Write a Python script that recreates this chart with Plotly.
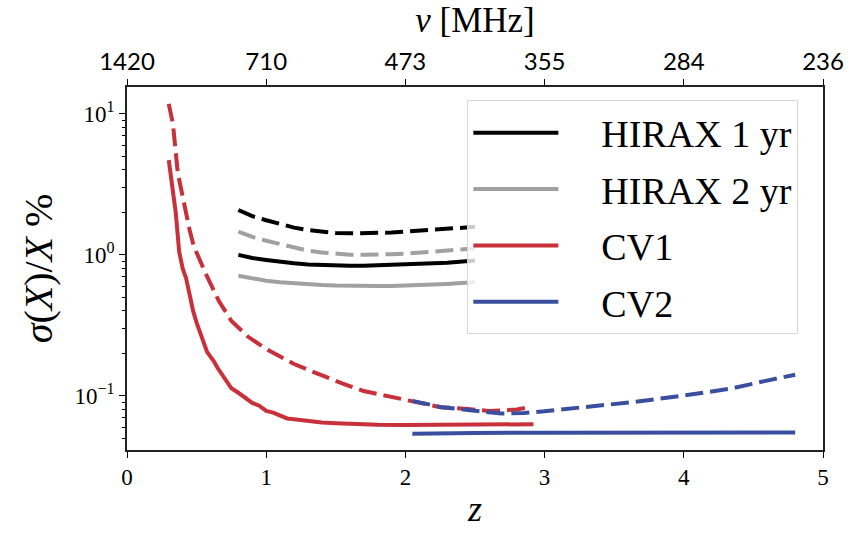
import plotly.graph_objects as go

# Redshift grids and fractional errors sigma(X)/X in percent
z_hirax = [0.8, 0.9, 1.0, 1.1, 1.2, 1.3, 1.4, 1.5, 1.6, 1.7, 1.8, 1.9, 2.0, 2.1, 2.2, 2.3, 2.4, 2.5]
hirax1_solid = [1.00, 0.95, 0.92, 0.89, 0.87, 0.855, 0.845, 0.84, 0.835, 0.835, 0.84, 0.845, 0.85, 0.86, 0.87, 0.88, 0.895, 0.91]
hirax1_dash = [2.08, 1.88, 1.76, 1.66, 1.56, 1.50, 1.46, 1.43, 1.42, 1.42, 1.43, 1.44, 1.46, 1.48, 1.50, 1.52, 1.55, 1.58]
hirax2_solid = [0.71, 0.68, 0.655, 0.64, 0.628, 0.618, 0.61, 0.605, 0.60, 0.60, 0.60, 0.602, 0.605, 0.61, 0.615, 0.622, 0.63, 0.64]
hirax2_dash = [1.46, 1.34, 1.26, 1.19, 1.12, 1.07, 1.04, 1.02, 1.00, 1.00, 1.00, 1.01, 1.02, 1.04, 1.05, 1.07, 1.09, 1.11]

z_cv1_solid = [0.30, 0.325, 0.35, 0.375, 0.40, 0.425, 0.45, 0.475, 0.50, 0.525, 0.55, 0.575, 0.60,
               0.625, 0.65, 0.70, 0.75, 0.80, 0.85, 0.90, 0.95, 1.00, 1.05, 1.10, 1.15, 1.20, 1.30,
               1.40, 1.50, 1.60, 1.80, 2.00, 2.20, 2.40, 2.60, 2.80, 2.92]
cv1_solid = [4.7, 3.0, 2.0, 1.05, 0.80, 0.68, 0.52, 0.40, 0.33, 0.275, 0.24, 0.205, 0.19,
             0.175, 0.158, 0.135, 0.113, 0.105, 0.096, 0.089, 0.085, 0.078, 0.076, 0.072, 0.069, 0.068, 0.066,
             0.0645, 0.0638, 0.063, 0.0622, 0.062, 0.062, 0.0618, 0.0622, 0.0625, 0.0628]

z_cv1_dash = [0.30, 0.33, 0.365, 0.40, 0.43, 0.45, 0.48, 0.52, 0.57, 0.66, 0.75, 0.87, 1.0, 1.1, 1.2,
              1.35, 1.46, 1.55, 1.7, 1.9, 2.1, 2.25, 2.45, 2.6, 2.7, 2.8, 2.9]
cv1_dash = [11.8, 8.5, 3.8, 2.5, 1.8, 1.5, 1.15, 0.93, 0.72, 0.47, 0.34, 0.262, 0.215, 0.19, 0.168,
            0.146, 0.131, 0.122, 0.108, 0.098, 0.090, 0.083, 0.0805, 0.078, 0.0786, 0.080, 0.083]

z_cv2_solid = [2.05, 2.2, 2.5, 3.0, 4.0, 4.8]
cv2_solid = [0.0538, 0.0543, 0.0545, 0.0547, 0.0548, 0.0548]

z_cv2_dash = [2.05, 2.26, 2.48, 2.69, 2.85, 3.0, 3.28, 3.63, 3.99, 4.34, 4.58, 4.8]
cv2_dash = [0.092, 0.083, 0.0786, 0.0748, 0.0755, 0.0775, 0.083, 0.090, 0.100, 0.1125, 0.127, 0.141]

# Top axis: observed 21cm frequency at integer redshifts
z_ticks = [0, 1, 2, 3, 4, 5]
nu_labels = ["1420", "710", "473", "355", "284", "236"]

BLACK = "#000000"
GRAY = "#a0a0a0"
RED = "#c8303a"
BLUE = "#3a4ea0"
LW = 4
DASH = "18px,7px"
SERIF = "Liberation Serif, DejaVu Serif, serif"
SANS = "Lato, Noto Sans, DejaVu Sans, sans-serif"
GAP = "\u2003"

fig = go.Figure()


def add(x, y, color, dashed, group, name=None):
    fig.add_trace(go.Scatter(
        x=x, y=y, mode="lines",
        line=dict(color=color, width=LW, dash=DASH if dashed else "solid"),
        name=name, legendgroup=group, showlegend=(name is not None and not dashed),
        hoverinfo="skip",
    ))


add(z_hirax, hirax1_dash, BLACK, True, "h1")
add(z_hirax, hirax2_dash, GRAY, True, "h2")
add(z_cv1_dash, cv1_dash, RED, True, "cv1")
add(z_cv2_dash, cv2_dash, BLUE, True, "cv2")
add(z_hirax, hirax1_solid, BLACK, False, "h1", GAP + "HIRAX 1 yr")
add(z_hirax, hirax2_solid, GRAY, False, "h2", GAP + "HIRAX 2 yr")
add(z_cv1_solid, cv1_solid, RED, False, "cv1", GAP + "CV1")
add(z_cv2_solid, cv2_solid, BLUE, False, "cv2", GAP + "CV2")

# invisible trace so the frequency axis is drawn
fig.add_trace(go.Scatter(x=z_ticks, y=[1] * len(z_ticks), xaxis="x2", mode="markers",
                         marker=dict(opacity=0), showlegend=False, hoverinfo="skip"))

minor_vals = [m * 10 ** e for e in (-2, -1, 0, 1) for m in range(2, 10)]

fig.update_layout(
    width=856, height=534,
    margin=dict(l=127, r=23, t=87, b=79),
    plot_bgcolor="white", paper_bgcolor="white",
    font=dict(family=SERIF, color="black"),
    xaxis=dict(
        range=[0, 5], tickvals=z_ticks, ticks="outside", ticklen=6, tickwidth=1.3,
        tickcolor="black", showline=True, linecolor="#222", linewidth=1.5,
        showgrid=False, zeroline=False, mirror=False,
        tickfont=dict(size=23, family=SERIF),
        title=dict(text="<i>z</i>", font=dict(size=36, family=SERIF), standoff=6),
    ),
    xaxis2=dict(
        overlaying="x", side="top", range=[0, 5], tickvals=z_ticks, ticktext=nu_labels,
        ticks="outside", ticklen=6, tickwidth=1.3, tickcolor="black",
        showline=True, linecolor="#222", linewidth=1.5, showgrid=False, zeroline=False,
        tickfont=dict(size=24, family=SANS),
        title=dict(text="<i>ν</i> [MHz]", font=dict(size=35, family=SERIF), standoff=2),
    ),
    yaxis=dict(
        type="log", range=[-1.385, 1.191],
        tickvals=[0.1, 1, 10], ticktext=["10<sup>−1</sup>", "10<sup>0</sup>", "10<sup>1</sup>"],
        ticks="outside", ticklen=6, tickwidth=1.3, tickcolor="black",
        minor=dict(tickvals=minor_vals, ticks="outside", ticklen=3.5, tickwidth=1, tickcolor="black", showgrid=False),
        showline=True, linecolor="#222", linewidth=1.5, mirror=True,
        showgrid=False, zeroline=False,
        tickfont=dict(size=23, family=SERIF),
        title=dict(text="<i>σ</i>(<i>X</i>)/<i>X</i> %", font=dict(size=40, family=SERIF), standoff=10),
    ),
    legend=dict(
        x=0.489, y=0.963, xanchor="left", yanchor="top",
        bgcolor="rgba(255,255,255,0.8)", bordercolor="#d6d6d6", borderwidth=1,
        font=dict(size=38, family=SERIF), itemwidth=85, tracegroupgap=4,
    ),
)

fig.write_html("out.html")
